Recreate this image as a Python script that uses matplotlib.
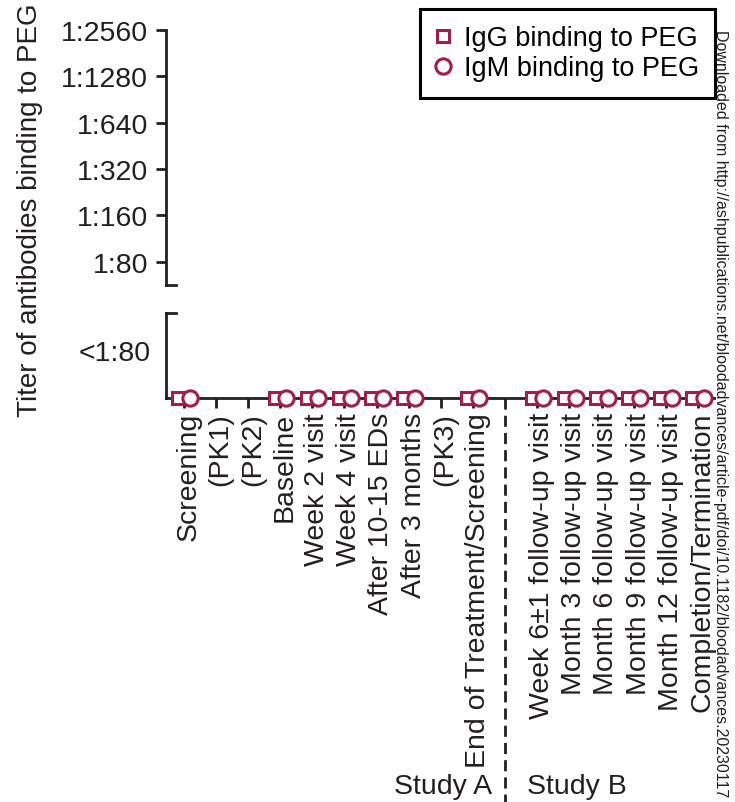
import numpy as np
import matplotlib
matplotlib.use("Agg")
import matplotlib.pyplot as plt
import matplotlib.transforms as mtransforms

plt.rcParams["font.family"] = ["Liberation Sans", "DejaVu Sans"]

# visits (the empty slot is the Study A / Study B separator)
visits = ["Screening", "(PK1)", "(PK2)", "Baseline", "Week 2 visit", "Week 4 visit",
          "After 10-15 EDs", "After 3 months", "(PK3)", "End of Treatment/Screening", "",
          "Week 6\u00b11 follow-up visit", "Month 3 follow-up visit", "Month 6 follow-up visit",
          "Month 9 follow-up visit", "Month 12 follow-up visit", "Completion/Termination"]
# 0 = below 1:80 (negative), nan = no sample
igg_titer = [0, np.nan, np.nan, 0, 0, 0, 0, 0, np.nan, 0, np.nan, 0, 0, 0, 0, 0, 0]
igm_titer = [0, np.nan, np.nan, 0, 0, 0, 0, 0, np.nan, 0, np.nan, 0, 0, 0, 0, 0, 0]
titer_ticks = [80, 160, 320, 640, 1280, 2560]
titer_labels = ["1:80", "1:160", "1:320", "1:640", "1:1280", "1:2560"]
separator = 10

col = "#a11d4f"
ink = "#231f20"
fs = 20.5
lw = 2

fig = plt.figure(figsize=(7.35, 8.03), dpi=100)
W, H = 735, 803
left, right = 166 / W, 714 / W
ax_top = fig.add_axes([left, 1 - 286 / H, right - left, (286 - 31) / H])
ax = fig.add_axes([left, 1 - 399 / H, right - left, (399 - 314) / H])

x = np.arange(len(visits))

# upper part (positive titers)
ax_top.set_yscale("log", base=2)
ax_top.set_ylim(80 / np.sqrt(2), 2560)
ax_top.set_yticks(titer_ticks)
ax_top.set_yticklabels(titer_labels, fontsize=fs)
ax_top.minorticks_off()
ax_top.set_xlim(-0.55, 16.5)
ax_top.set_xticks([])
for s in ["top", "right", "bottom"]:
    ax_top.spines[s].set_visible(False)
ax_top.spines["left"].set_linewidth(lw)
ax_top.spines["left"].set_color(ink)
ax_top.tick_params(axis="y", width=lw, length=7, pad=6, color=ink, labelcolor=ink)
ax_top.patch.set_visible(False)
ax_top.plot([0, 10 / (right - left) / W], [0, 0], transform=ax_top.transAxes,
            color=ink, lw=lw, clip_on=False)

# lower part (negative)
ax.set_ylim(0, 1)
ax.set_xlim(-0.55, 16.5)
ax.set_yticks([0.565])
ax.set_yticklabels(["<1:80"], fontsize=fs)
ax.tick_params(axis="y", length=0, pad=11, labelcolor=ink)
ticks = [i for i in x if i != separator]
ax.set_xticks(ticks)
ax.set_xticklabels([visits[i] for i in ticks], rotation=90, fontsize=fs, va="top")
ax.tick_params(axis="x", width=lw, length=7, pad=3, color=ink, labelcolor=ink)
shift = mtransforms.ScaledTranslation(3.5 / 72, 0, fig.dpi_scale_trans)
for lab in ax.get_xticklabels():
    lab.set_transform(lab.get_transform() + shift)
for s in ["top", "right"]:
    ax.spines[s].set_visible(False)
for s in ["left", "bottom"]:
    ax.spines[s].set_linewidth(lw)
    ax.spines[s].set_color(ink)
ax.patch.set_visible(False)
ax.plot([0, 10 / (right - left) / W], [1, 1], transform=ax.transAxes,
        color=ink, lw=lw, clip_on=False)

sq_tr = mtransforms.offset_copy(ax.transData, fig=fig, x=-4, y=0, units="points")
ci_tr = mtransforms.offset_copy(ax.transData, fig=fig, x=4.5, y=0, units="points")
ax.plot(x, igg_titer, ls="none", marker="s", ms=8, mfc="white", mec=col, mew=2.2,
        transform=sq_tr, clip_on=False, zorder=5, label="IgG binding to PEG")
ax.plot(x, igm_titer, ls="none", marker="o", ms=11, mfc="white", mec=col, mew=2.2,
        transform=ci_tr, clip_on=False, zorder=6, label="IgM binding to PEG")

# separator between studies
ax.plot([separator, separator], [0, -4.75], color=ink, lw=lw,
        ls=(0, (4, 2.2)), clip_on=False)
fig.text(492 / W, 1 - 787 / H, "Study A", ha="right", va="center", fontsize=fs, color=ink)
fig.text(527 / W, 1 - 787 / H, "Study B", ha="left", va="center", fontsize=fs, color=ink)

fig.text(30 / W, 1 - 3 / H, "Titer of antibodies binding to PEG", rotation=90,
         ha="center", va="top", fontsize=20, color=ink)

leg = fig.legend(loc="upper right", bbox_to_anchor=(715 / W, 1 - 10 / H), fontsize=19.5,
                 frameon=True, fancybox=False, edgecolor="black", framealpha=1,
                 handletextpad=0.5, handlelength=0.52, borderpad=0.6, labelspacing=0.15,
                 borderaxespad=0)
leg.get_frame().set_linewidth(2.2)

fig.text(720 / W, 1 - 30 / H,
         "Downloaded from http://ashpublications.net/bloodadvances/article-pdf/doi/10.1182/bloodadvances.20230117",
         rotation=-90, ha="center", va="top", fontsize=11.5, color=ink)

fig.savefig("out.png", dpi=100)
